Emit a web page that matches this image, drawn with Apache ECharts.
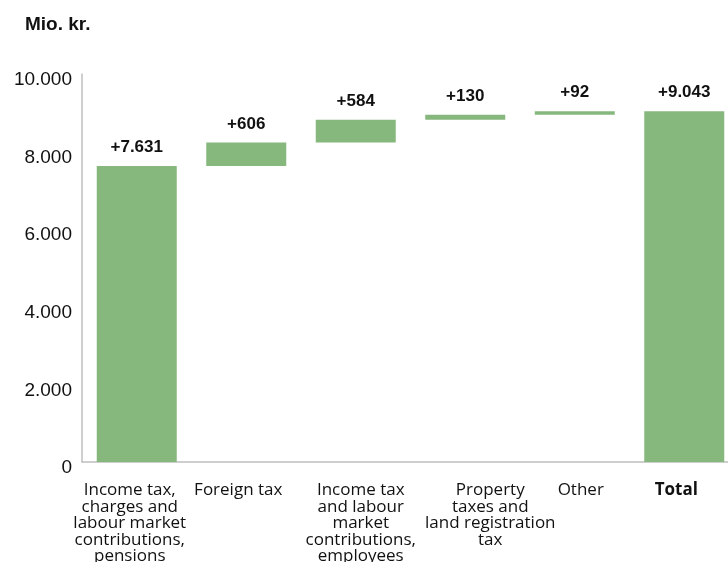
<!DOCTYPE html>
<html>
<head>
<meta charset="utf-8">
<script src="https://cdn.jsdelivr.net/npm/echarts@6/dist/echarts.min.js"></script>
<style>
  html, body { margin: 0; padding: 0; background: #fff; }
  #chart { width: 728px; height: 562px; }
</style>
</head>
<body>
<div id="chart"></div>
<script>
// Contributions to the change (mio. kr.), final bar is the total
const categories = [
  'Income tax,\ncharges and\nlabour market\ncontributions,\npensions',
  'Foreign tax',
  'Income tax\nand labour\nmarket\ncontributions,\nemployees',
  'Property\ntaxes and\nland registration\ntax',
  'Other',
  'Total'
];
const changes = [7631, 606, 584, 130, 92];
const total = 9043;
const yTicks = { min: 0, max: 10000, interval: 2000 };

// horizontal nudge of each category label (px)
const labelShift = [-7, -8, 5, 25, 6, -8];

// waterfall: invisible base + visible step
const barValues = changes.concat([total]);
const baseValues = [];
let running = 0;
changes.forEach(v => { baseValues.push(running); running += v; });
baseValues.push(0);

function danish(n) {
  return String(n).replace(/\B(?=(\d{3})+(?!\d))/g, '.');
}

const green = '#86b77c';
const axisGray = '#bfbfbf';

const catData = categories.map((c, i) => {
  const s = labelShift[i];
  const pad = s >= 0 ? [0, 0, 0, 2 * s] : [0, -2 * s, 0, 0];
  const item = { value: c, textStyle: { padding: pad } };
  if (c === 'Total') item.textStyle.fontWeight = 'bold';
  return item;
});

const chart = echarts.init(document.getElementById('chart'), null, { renderer: 'canvas' });
chart.setOption({
  animation: false,
  title: {
    text: 'Mio. kr.',
    left: 20, top: 10,
    textStyle: { fontFamily: 'Liberation Sans, Arial, sans-serif', fontSize: 19, fontWeight: 'bold', color: '#111' }
  },
  grid: { left: 82, top: 74, width: 657, height: 388, containLabel: false, outerBoundsMode: 'none' },
  xAxis: {
    type: 'category',
    data: catData,
    axisLine: { lineStyle: { color: axisGray, width: 1.5 } },
    axisTick: { show: false },
    axisLabel: {
      interval: 0,
      margin: 20,
      fontFamily: 'Open Sans, sans-serif',
      fontSize: 17,
      lineHeight: 16.5,
      color: '#111',
      align: 'center'
    }
  },
  yAxis: {
    type: 'value',
    min: yTicks.min, max: yTicks.max, interval: yTicks.interval,
    axisLine: { show: true, lineStyle: { color: axisGray, width: 1.5 } },
    axisTick: { show: false },
    splitLine: { show: false },
    axisLabel: {
      margin: 10,
      fontFamily: 'Liberation Sans, Arial, sans-serif',
      fontSize: 19,
      color: '#111',
      verticalAlign: 'top',
      lineHeight: 12,
      formatter: v => danish(v)
    }
  },
  series: [
    {
      type: 'bar',
      stack: 'wf',
      data: baseValues,
      barWidth: 80,
      itemStyle: { color: 'transparent' },
      emphasis: { disabled: true },
      silent: true
    },
    {
      type: 'bar',
      stack: 'wf',
      data: barValues,
      barWidth: 80,
      itemStyle: { color: green },
      label: {
        show: true,
        position: 'top',
        distance: 10,
        fontFamily: 'Liberation Sans, Arial, sans-serif',
        fontSize: 17,
        fontWeight: 'bold',
        color: '#111',
        formatter: p => '+' + danish(p.value)
      }
    }
  ]
});
</script>
</body>
</html>
